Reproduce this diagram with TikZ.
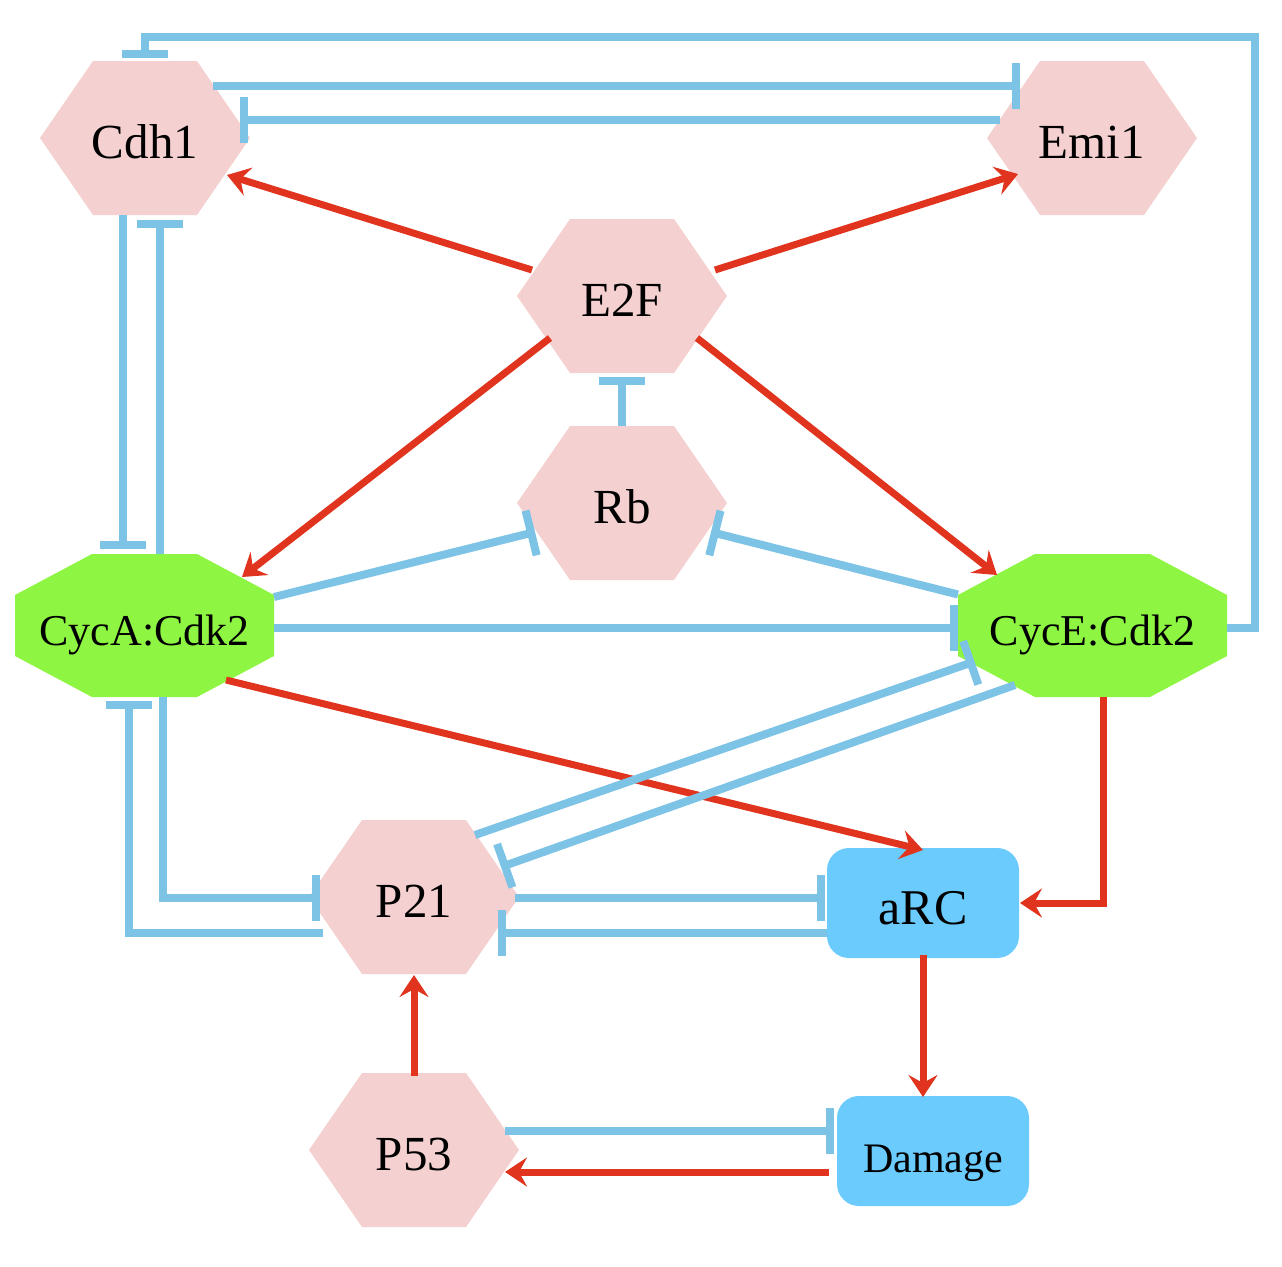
\documentclass[tikz,border=0pt]{standalone}
\usepackage{fontspec}
\setmainfont{Liberation Serif}
\usetikzlibrary{arrows.meta,calc}
\definecolor{hexpink}{HTML}{F4D0D0}
\definecolor{octgreen}{HTML}{8EF542}
\definecolor{boxblue}{HTML}{6BCBFD}
\definecolor{lineblue}{HTML}{7DC3E6}
\definecolor{actred}{HTML}{E0341E}
\tikzset{
  lab/.style={inner sep=0pt, text height=40pt, text depth=0pt, font=\fontsize{49}{51}\selectfont},
  cyclab/.style={inner sep=0pt, text height=39pt, text depth=0pt, font=\fontsize{44}{46}\selectfont},
  inh/.style={draw=lineblue, line width=8pt, -{Bar[width=46pt]}},
  act/.style={draw=actred, line width=7pt, -{Stealth[length=22pt,width=29pt,inset=8pt]}},
  rbox/.style={rounded corners=22pt, fill=boxblue, minimum width=192pt, minimum height=110pt, inner sep=0pt, text height=42pt, text depth=0pt}
}
\newcommand{\hexat}[4]{%
  \fill[hexpink] (#2-105,#3) -- (#2-52,#3-77) -- (#2+52,#3-77) -- (#2+105,#3) -- (#2+52,#3+77) -- (#2-52,#3+77) -- cycle;
  \node[lab] (#1) at (#2,#3) {#4};}
\newcommand{\octat}[5]{%
  \fill[octgreen] (#2-#4,#3-30.5) -- (#2-#4+77,#3-71.5) -- (#2+#4-77,#3-71.5) -- (#2+#4,#3-30.5) -- (#2+#4,#3+30.5) -- (#2+#4-77,#3+71.5) -- (#2-#4+77,#3+71.5) -- (#2-#4,#3+30.5) -- cycle;
  \node[cyclab] (#1) at (#2,#3) {#5};}
\begin{document}
\begin{tikzpicture}[x=1pt,y=-1pt]
\useasboundingbox (0,0) rectangle (1282,1266);
\hexat{cdh1}{145}{138}{Cdh1}
\hexat{emi1}{1092}{138}{Emi1}
\hexat{e2f}{622}{296}{E2F}
\hexat{rb}{622}{503}{Rb}
\hexat{p21}{414}{897}{P21}
\hexat{p53}{414}{1150}{P53}
\octat{cyca}{144.5}{625.5}{129.5}{CycA:Cdk2}
\octat{cyce}{1092.5}{625.5}{134.5}{CycE:Cdk2}
\node[rbox, font=\fontsize{50}{52}\selectfont] (arc) at (923,903) {aRC};
\node[rbox, font=\fontsize{42}{44}\selectfont] (damage) at (933,1151) {Damage};
% inhibitions and activations
\draw[inh] ([shift={(134.5,2.5)}]cyce.center) -- ([shift={(162.5,2.5)}]cyce.center) |- ([shift={(0,-101)}]cdh1.center) -- ([shift={(0,-80)}]cdh1.center);
\draw[inh] ([shift={(68,-52)}]cdh1.center) -- ([shift={(-72,-52)}]emi1.center);
\draw[inh] ([shift={(-92,-18)}]emi1.center) -- ([shift={(95,-18)}]cdh1.center);
\draw[act] ([shift={(-90,-26)}]e2f.center) -- ([shift={(82,37)}]cdh1.center);
\draw[act] ([shift={(93,-26)}]e2f.center) -- ([shift={(-74,36)}]emi1.center);
\draw[act] ([shift={(-72,42)}]e2f.center) -- ([shift={(97.5,-48.5)}]cyca.center);
\draw[act] ([shift={(75,42)}]e2f.center) -- ([shift={(-95.5,-50.5)}]cyce.center);
\draw[inh] ([shift={(0,-77)}]rb.center) -- ([shift={(0,81)}]e2f.center);
\draw[inh] ([shift={(129.5,-28.5)}]cyca.center) -- ([shift={(-87,29)}]rb.center);
\draw[inh] ([shift={(-134.5,-31)}]cyce.center) -- ([shift={(89,29)}]rb.center);
\draw[inh] ([shift={(129.5,2.5)}]cyca.center) -- ([shift={(-134.5,2.5)}]cyce.center);
\draw[inh] ([shift={(-22,77)}]cdh1.center) -- ([shift={(-21.5,-77)}]cyca.center);
\draw[inh] ([shift={(15.5,-71.5)}]cyca.center) -- ([shift={(15,82)}]cdh1.center);
\draw[inh] ([shift={(-91,36)}]p21.center) -| ([shift={(-15.5,75.5)}]cyca.center);
\draw[inh] ([shift={(18.5,71.5)}]cyca.center) |- ([shift={(-94,1)}]p21.center);
\draw[act] ([shift={(81.5,54.5)}]cyca.center) -- ([shift={(0,-53)}]arc.center);
\draw[act] ([shift={(10.5,71.5)}]cyce.center) |- ([shift={(97,0)}]arc.center);
\draw[inh] ([shift={(61,-62)}]p21.center) -- ([shift={(-118,36)}]cyce.center);
\draw[inh] ([shift={(-77.5,59.5)}]cyce.center) -- ([shift={(87,-30)}]p21.center);
\draw[inh] ([shift={(101,1)}]p21.center) -- ([shift={(-98,-5)}]arc.center);
\draw[inh] ([shift={(-96,30)}]arc.center) -- ([shift={(84,36)}]p21.center);
\draw[act] ([shift={(0,-74)}]p53.center) -- ([shift={(0,78)}]p21.center);
\draw[act] ([shift={(0,52)}]arc.center) -- ([shift={(-10,-54)}]damage.center);
\draw[inh] ([shift={(91,-19)}]p53.center) -- ([shift={(-99,-20)}]damage.center);
\draw[act] ([shift={(-104,21)}]damage.center) -- ([shift={(91,22)}]p53.center);
\end{tikzpicture}
\end{document}
